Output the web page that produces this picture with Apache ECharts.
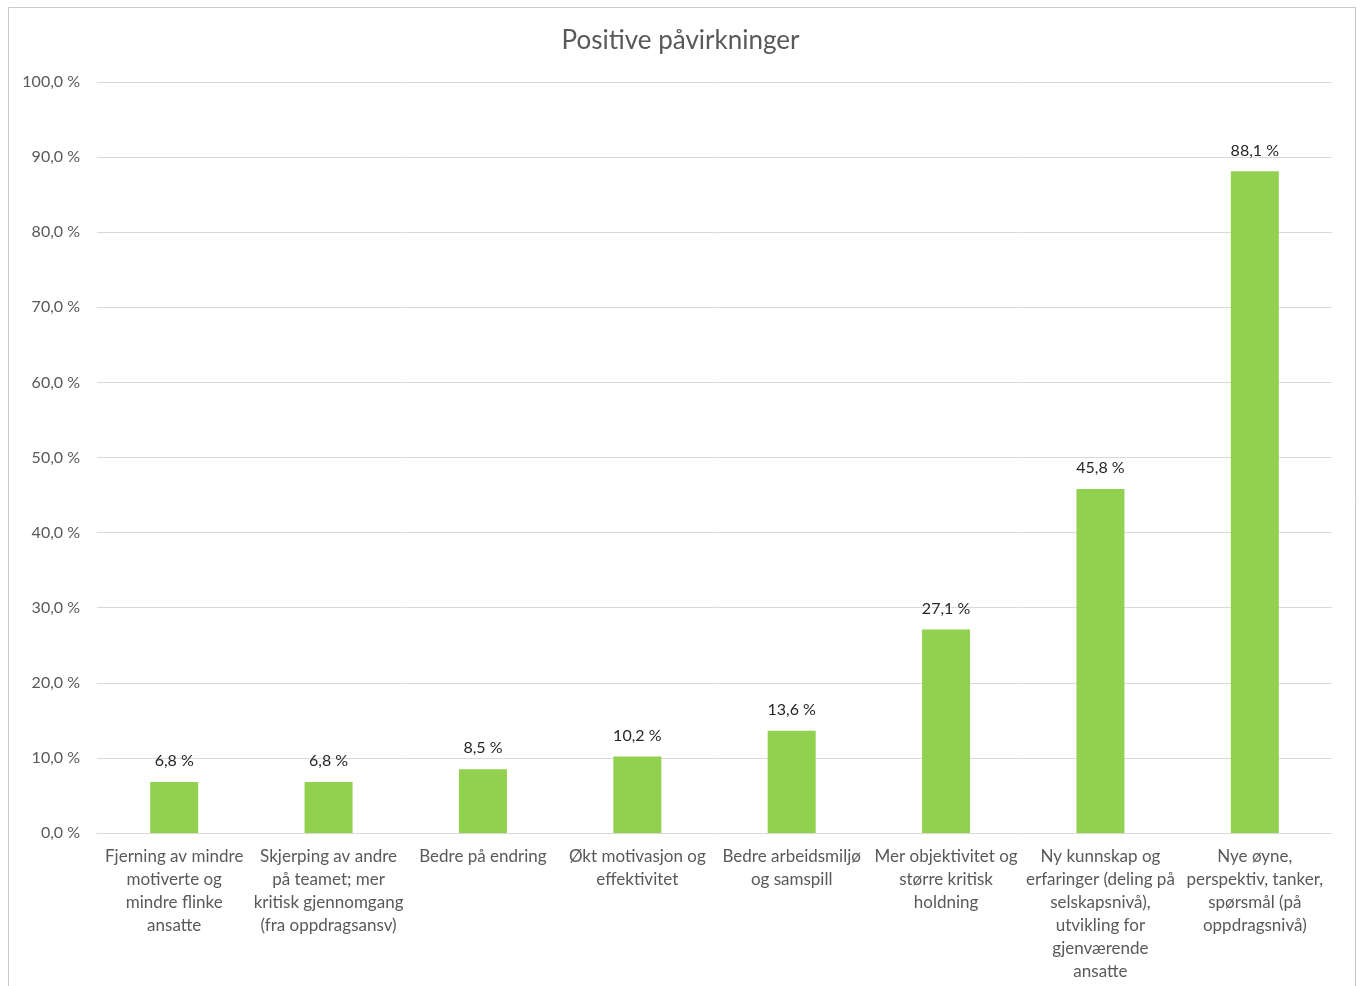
<!DOCTYPE html>
<html>
<head>
<meta charset="utf-8">
<script src="https://cdn.jsdelivr.net/npm/echarts@6/dist/echarts.min.js"></script>
<style>
html,body{margin:0;padding:0;background:#fff;}
#chart{width:1361px;height:986px;}
</style>
</head>
<body>
<div id="chart"></div>
<script>
const title = 'Positive påvirkninger';
const categories = [
  'Fjerning av mindre\nmotiverte og\nmindre flinke\nansatte',
  'Skjerping av andre\npå teamet; mer\nkritisk gjennomgang\n(fra oppdragsansv)',
  'Bedre på endring',
  'Økt motivasjon og\neffektivitet',
  'Bedre arbeidsmiljø\nog samspill',
  'Mer objektivitet og\nstørre kritisk\nholdning',
  'Ny kunnskap og\nerfaringer (deling på\nselskapsnivå),\nutvikling for\ngjenværende\nansatte',
  'Nye øyne,\nperspektiv, tanker,\nspørsmål (på\noppdragsnivå)'
];
const values = [6.8, 6.8, 8.5, 10.2, 13.6, 27.1, 45.8, 88.1];

const fmt = v => v.toFixed(1).replace('.', ',') + ' %';
const font = 'Lato, "Open Sans", sans-serif';

const chart = echarts.init(document.getElementById('chart'));
chart.setOption({
  animation: false,
  backgroundColor: '#fff',
  textStyle: { fontFamily: font },
  graphic: [{
    type: 'rect',
    shape: { x: 8.5, y: 7.5, width: 1347, height: 1000 },
    style: { fill: 'none', stroke: '#c9c9c9', lineWidth: 1 },
    silent: true
  }],
  title: {
    text: title,
    left: 'center',
    top: 23,
    textStyle: { fontFamily: font, fontSize: 26, fontWeight: 'normal', color: '#595959' }
  },
  grid: { left: 97, right: 29, top: 82, bottom: 153, containLabel: false },
  xAxis: {
    type: 'category',
    data: categories,
    axisLine: { lineStyle: { color: '#d9d9d9', width: 1 } },
    axisTick: { show: false },
    axisLabel: {
      interval: 0,
      color: '#595959',
      fontFamily: font,
      fontSize: 17,
      lineHeight: 23,
      margin: 12
    }
  },
  yAxis: {
    type: 'value',
    min: 0,
    max: 100,
    interval: 10,
    axisLine: { show: false },
    axisTick: { show: false },
    splitLine: { lineStyle: { color: '#d9d9d9', width: 1 } },
    axisLabel: {
      formatter: v => fmt(v),
      color: '#595959',
      fontFamily: font,
      fontSize: 16,
      margin: 17
    }
  },
  series: [{
    type: 'bar',
    data: values,
    barWidth: 48,
    itemStyle: { color: '#92D050' },
    label: {
      show: true,
      position: 'top',
      distance: 13,
      formatter: p => fmt(p.value),
      color: '#262626',
      fontFamily: font,
      fontSize: 16
    }
  }]
});
</script>
</body>
</html>
